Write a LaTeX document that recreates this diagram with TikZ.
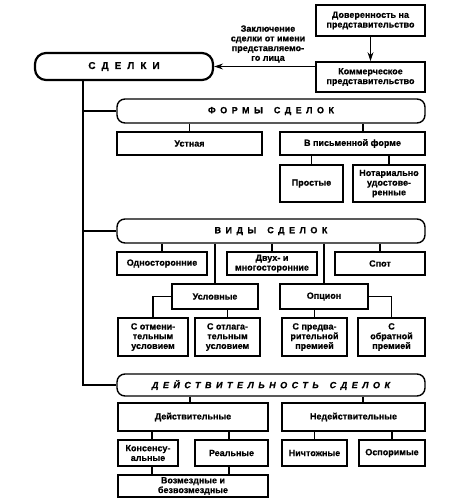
\documentclass[tikz,border=0pt]{standalone}
\usepackage{fontspec}
\setmainfont{Liberation Sans}[BoldFeatures={FakeBold=0.6},BoldItalicFeatures={FakeBold=0.6}]
\usetikzlibrary{arrows.meta,calc}
\newcommand\bx[7][]{\node[#2,minimum width={(#5-#3)*1pt},minimum height={(#6-#4)*1pt},#1] (#7) at ({(#3+#5)/2},{(#4+#6)/2})}
\newcommand\gp{\kern6pt}
\begin{document}
\begin{tikzpicture}[x=1pt,y=-1pt,
  every node/.style={font=\fontsize{9}{9.7}\selectfont\bfseries},
  box/.style={draw,line width=1.4pt,inner sep=0pt,align=center},
  hdr/.style={draw,line width=1.4pt,inner sep=0pt,align=center,rounded corners=8pt,
     font=\fontsize{9}{9.7}\selectfont\bfseries\addfontfeature{LetterSpace=50}},
  conn/.style={line width=1.2pt},
  lbl/.style={align=center,inner sep=0pt}]
\useasboundingbox (0,0) rectangle (453,499);
% top
\bx{box,line width=1.7pt}{316}{5}{425}{36}{dov} {Доверенность на\\представительство};
\bx{box,line width=1.7pt}{316}{62}{425}{92}{kom} {Коммерческое\\представительство};
\bx[line width=2.2pt,rounded corners=11pt,font=\fontsize{10}{10}\selectfont\bfseries]{hdr}{35}{53}{213}{80}{sdelki} {С\gp Д\gp Е\gp Л\gp К\gp И};
\node[lbl] (lab) at (268,44) {Заключение\\сделки от имени\\представляемо-\\го лица};
\draw[conn,-{Stealth[length=9pt,width=6pt]}] (dov.south) -- (kom.north);
\draw[conn,-{Stealth[length=9pt,width=6pt]}] (kom.west |- sdelki.east) -- (sdelki.east);
% headers
\bx{hdr}{117}{99}{425}{123}{formy} {ФОРМЫ\hspace{4pt} СДЕЛОК};
\bx{hdr}{117}{219}{425}{243}{vidy} {ВИДЫ\hspace{4pt} СДЕЛОК};
\bx[font=\fontsize{9}{9.7}\selectfont\bfseries\itshape\addfontfeature{LetterSpace=50}]{hdr}{117}{374}{425}{396}{deistv} {ДЕЙСТВИТЕЛЬНОСТЬ\hspace{4pt} СДЕЛОК};
% main trunk
\draw[conn] (83,0 |- sdelki.south) |- (deistv.west);
\draw[conn] (83,0 |- formy.west) -- (formy.west);
\draw[conn] (83,0 |- vidy.west) -- (vidy.west);
% formy
\bx{box}{117}{132}{262}{155}{ustn} {Устная};
\bx{box}{280}{132}{425}{155}{pism} {В письменной форме};
\bx{box}{280}{165}{343}{202}{prost} {Простые};
\bx{box}{353}{165}{425}{202}{notar} {Нотариально\\удостове-\\ренные};
\draw[conn] (ustn.north |- formy.south) -- (ustn.north);
\draw[conn] (363,0 |- formy.south) -- (363,0 |- pism.north);
\draw[conn] (prost.north |- pism.south) -- (prost.north);
\draw[conn] (notar.north |- pism.south) -- (notar.north);
% vidy
\bx{box}{117}{252}{207}{275}{odno} {Односторонние};
\bx{box}{227}{252}{317}{275}{dvuh} {Двух- и\\многосторонние};
\bx{box}{335}{252}{425}{275}{spot} {Спот};
\bx{box}{172}{284}{258}{309}{uslov} {Условные};
\bx{box}{280}{284}{368}{309}{opcion} {Опцион};
\bx{box}{118}{318}{188}{356}{otmen} {С отмени-\\тельным\\условием};
\bx{box}{195}{318}{260}{356}{otlag} {С отлага-\\тельным\\условием};
\bx{box}{282}{318}{347}{356}{predv} {С предва-\\рительной\\премией};
\bx{box}{358}{318}{425}{356}{obrat} {С\\обратной\\премией};
\draw[conn] (odno.north |- vidy.south) -- (odno.north);
\draw[conn] (dvuh.north |- vidy.south) -- (dvuh.north);
\draw[conn] (spot.north |- vidy.south) -- (spot.north);
\draw[conn] (uslov.north |- vidy.south) -- (uslov.north);
\draw[conn] (opcion.north |- vidy.south) -- (opcion.north);
\draw[conn] (uslov.west) -| (otmen.north);
\draw[conn] (otlag.north |- uslov.south) -- (otlag.north);
\draw[conn] (predv.north |- opcion.south) -- (predv.north);
\draw[conn] (opcion.east) -| (obrat.north);
% deistv
\bx{box}{118}{403}{268}{431}{deis} {Действительные};
\bx{box}{282}{403}{425}{431}{nedeis} {Недействительные};
\bx{box}{118}{440}{178}{466}{konsen} {Консенсу-\\альные};
\bx{box}{195}{440}{268}{466}{real} {Реальные};
\bx{box}{282}{440}{347}{466}{nicht} {Ничтожные};
\bx{box}{359}{440}{425}{466}{ospor} {Оспоримые};
\bx{box}{118}{475}{268}{497}{vozm} {Возмездные и\\безвозмездные};
\draw[conn] (190,0 |- deistv.south) -- (190,0 |- deis.north);
\draw[conn] (363,0 |- deistv.south) -- (363,0 |- nedeis.north);
\draw[conn] (152,0 |- deis.south) -- (152,0 |- konsen.north);
\draw[conn] (229,0 |- deis.south) -- (229,0 |- real.north);
\draw[conn] (nicht.north |- nedeis.south) -- (nicht.north);
\draw[conn] (ospor.north |- nedeis.south) -- (ospor.north);
\draw[conn] (152,0 |- konsen.south) -- (152,0 |- vozm.north);
\draw[conn] (229,0 |- real.south) -- (229,0 |- vozm.north);
\end{tikzpicture}
\end{document}
